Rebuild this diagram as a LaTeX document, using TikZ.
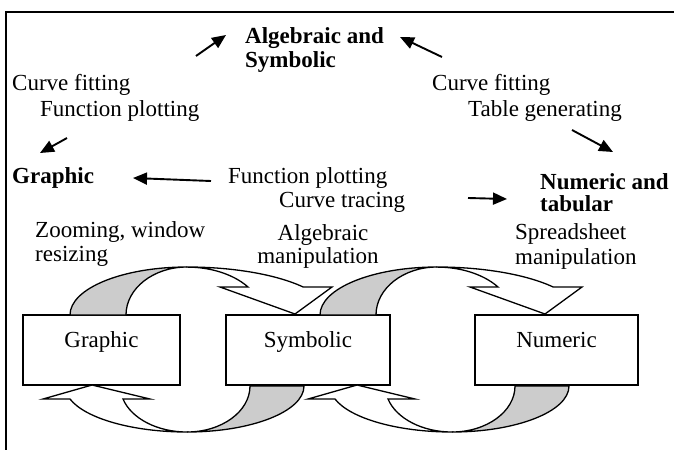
\documentclass[tikz,border=0pt]{standalone}
\usepackage{fontspec}
\setmainfont{Liberation Serif}
\usetikzlibrary{arrows.meta}
\newcommand{\txtsize}{\fontsize{23}{26}\selectfont}

\begin{document}
\begin{tikzpicture}[x=1pt,y=-1pt,
                    arrow/.style = {line width=1.9pt,-{Triangle[length=14pt,width=12pt]}},
                    txt/.style = {font=\txtsize, inner sep=0pt, anchor=base west},
                    btxt/.style = {txt, font=\txtsize\bfseries},
                    box/.style = {draw, line width=1.2pt, fill=white, inner sep=0pt,
                                  font=\txtsize, text height=32pt, text depth=38pt},
                    back/.style = {draw, line width=1.3pt, fill=gray!40},
                    front/.style = {draw, line width=1.3pt, fill=white}]
                    \useasboundingbox (0,0) rectangle (674,450);
                    \draw[line width=1.5pt] (674,12) -- (6,12) -- (6,450);

                    % titles and labels
                    \node[btxt] (alg) at (245,43) {Algebraic and};
                    \node[btxt] (sym) at (245,67) {Symbolic};
                    \node[txt] (cfleft) at (12,90) {Curve fitting};
                    \node[txt] (fpleft) at (40,116) {Function plotting};
                    \node[txt] (cfright) at (432,90) {Curve fitting};
                    \node[txt] (tgright) at (468,116) {Table generating};
                    \node[btxt] (gra) at (12,183) {Graphic};
                    \node[txt] (fpmid) at (228,183) {Function plotting};
                    \node[txt] (ctmid) at (279,207) {Curve tracing};
                    \node[btxt] (num) at (540,189) {Numeric and};
                    \node[btxt] (tab) at (540,211) {tabular};
                    \node[txt] (zoom) at (35,237) {Zooming, window};
                    \node[txt] (resz) at (35,261) {resizing};
                    \node[txt,anchor=base] (algm) at (323,240) {Algebraic};
                    \node[txt,anchor=base] (manm) at (318,263) {manipulation};
                    \node[txt] (sprd) at (515,239) {Spreadsheet};
                    \node[txt] (mans) at (515,264) {manipulation};

                    \coordinate (cfl) at (196,56);  \coordinate (algl) at (226,35);
                    \coordinate (cfr) at (442,57);  \coordinate (algr) at (400,37);
                    \coordinate (fpl) at (67,138);  \coordinate (gral) at (40,153);
                    \coordinate (tgr) at (572,130); \coordinate (numr) at (613,152);
                    \coordinate (fpm) at (211,181); \coordinate (gram) at (133,178);
                    \coordinate (ctm) at (468,198); \coordinate (numm) at (507,199);
                    \draw[arrow] (cfl) -- (algl);
                    \draw[arrow] (cfr) -- (algr);
                    \draw[arrow] (fpl) -- (gral);
                    \draw[arrow] (tgr) -- (numr);
                    \draw[arrow] (fpm) -- (gram);
                    \draw[arrow] (ctm) -- (numm);

                    % boxes
                    \node[box, minimum width=157pt] (graphic) at (101.5,350) {Graphic};
                    \node[box, minimum width=164pt] (symbolic) at (308,350) {Symbolic};
                    \node[box, minimum width=163pt] (numeric) at (556.5,350) {Numeric};

                    % curved arrows over the top
                    \draw[back] (70,315) arc[start angle=180, end angle=270, x radius=117, y radius=48]
                        arc[start angle=270, end angle=180, x radius=61, y radius=48] -- cycle;
                    \draw[front] (187,267) arc[start angle=270, end angle=324.2, x radius=143, y radius=48]
                        -- (332,287) -- (295,314) -- (220,287) -- (248,287)
                        arc[start angle=324.2, end angle=270, x radius=75.2, y radius=48] -- cycle;
                    \draw[back,xshift=250pt] (70,315) arc[start angle=180, end angle=270, x radius=117, y radius=48]
                        arc[start angle=270, end angle=180, x radius=61, y radius=48] -- cycle;
                    \draw[front,xshift=250pt] (187,267) arc[start angle=270, end angle=324.2, x radius=143, y radius=48]
                        -- (332,287) -- (295,314) -- (220,287) -- (248,287)
                        arc[start angle=324.2, end angle=270, x radius=75.2, y radius=48] -- cycle;

                    % curved arrows underneath
                    \draw[back] (304,386) arc[start angle=0, end angle=90, x radius=117, y radius=46]
                        arc[start angle=90, end angle=0, x radius=63, y radius=46] -- cycle;
                    \draw[front] (187,432) arc[start angle=90, end angle=163.6, x radius=122, y radius=46]
                        -- (43,399) -- (92,385) -- (150,399) -- (123,399)
                        arc[start angle=163.6, end angle=90, x radius=66.7, y radius=46] -- cycle;
                    \draw[back,xshift=265pt] (304,386) arc[start angle=0, end angle=90, x radius=117, y radius=46]
                        arc[start angle=90, end angle=0, x radius=63, y radius=46] -- cycle;
                    \draw[front,xshift=265pt] (187,432) arc[start angle=90, end angle=163.6, x radius=122, y radius=46]
                        -- (43,399) -- (92,385) -- (150,399) -- (123,399)
                        arc[start angle=163.6, end angle=90, x radius=66.7, y radius=46] -- cycle;
                \end{tikzpicture}
\end{document}
